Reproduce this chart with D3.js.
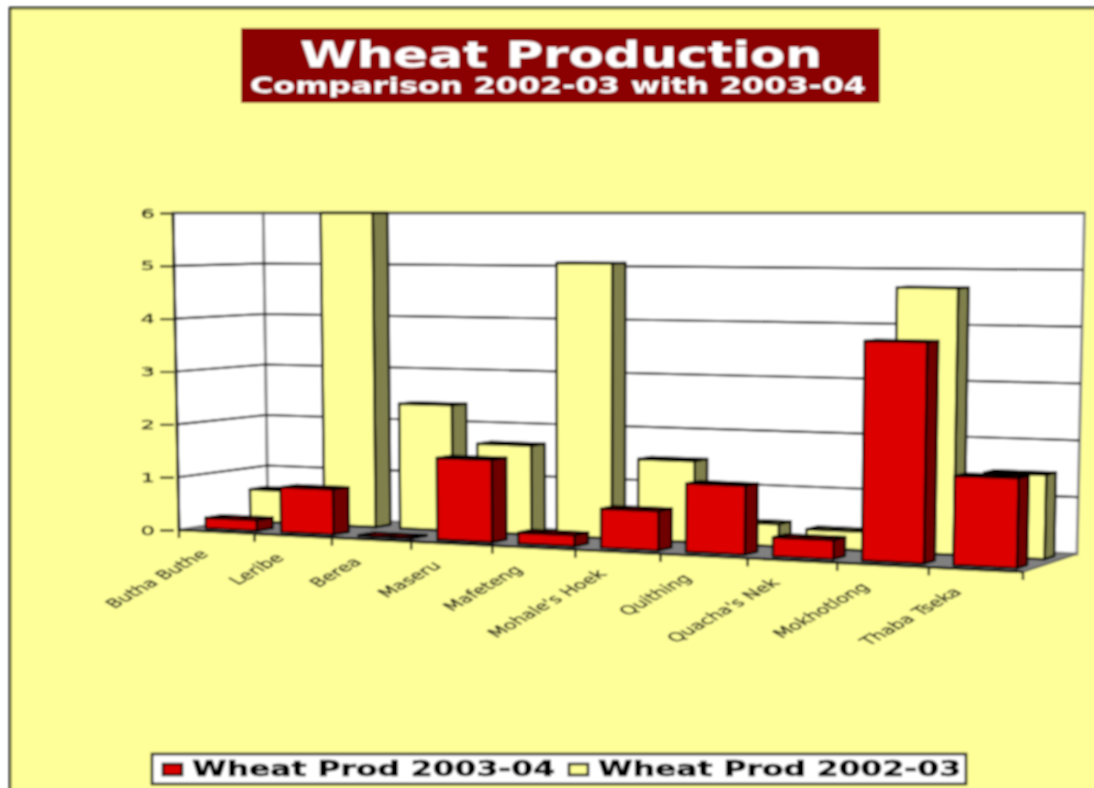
<!DOCTYPE html>
<html>
<head>
<meta charset="utf-8">
<style>
  html, body { margin: 0; padding: 0; background: #fff; }
  svg { display: block; }
  text { font-family: "DejaVu Sans", sans-serif; }
</style>
<script src="https://cdn.jsdelivr.net/npm/d3@7"></script>
</head>
<body>
<svg id="chart" width="1094" height="788"></svg>
<script>
const categories = ['Butha Buthe', 'Leribe', 'Berea', 'Maseru', 'Mafeteng', "Mohale's Hoek", 'Quithing', "Quacha's Nek", 'Mokhotlong', 'Thaba Tseka'];
const prod0304 = [0.2, 0.84, 0.01, 1.5, 0.2, 0.7, 1.21, 0.33, 3.79, 1.52];
const prod0203 = [0.62, 6, 2.37, 1.66, 5.07, 1.48, 0.4, 0.33, 4.68, 1.46];
const valueTicks = [0, 1, 2, 3, 4, 5, 6];
const seriesNames = ['Wheat Prod 2003-04', 'Wheat Prod 2002-03'];

const RED = { front: '#dd0000', top: '#8b0000', side: '#6f0000' };
const YEL = { front: '#ffff99', top: '#80804d', side: '#80804d' };
const BG = '#ffff99';
const XSTRETCH = 1.75;

const svg = d3.select('#chart');

// slight blur, the source picture is a scaled up bitmap
svg.append('defs').append('filter').attr('id', 'soft')
  .attr('filterUnits', 'userSpaceOnUse')
  .attr('x', 0).attr('y', 0).attr('width', 1094).attr('height', 788)
  .append('feGaussianBlur').attr('stdDeviation', 0.8);

const root = svg.append('g').attr('filter', 'url(#soft)');

root.append('rect').attr('x', 10).attr('y', 8).attr('width', 1100).attr('height', 800)
  .attr('fill', BG).attr('stroke', '#000').attr('stroke-width', 2.4);

// ---- floor homography (unit square -> floor quad) ----
const FL = [179, 530], FR = [1023, 572], BR = [1077, 554], BL = [268, 516];
const TOP_Y = 213;

function makeFloor(p0, p1, p2, p3) {
  const sx = p0[0] - p1[0] + p2[0] - p3[0], sy = p0[1] - p1[1] + p2[1] - p3[1];
  const dx1 = p1[0] - p2[0], dx2 = p3[0] - p2[0], dy1 = p1[1] - p2[1], dy2 = p3[1] - p2[1];
  const det = dx1 * dy2 - dx2 * dy1;
  const g = (sx * dy2 - dx2 * sy) / det, h = (dx1 * sy - sx * dy1) / det;
  const a = p1[0] - p0[0] + g * p1[0], b = p3[0] - p0[0] + h * p3[0];
  const d = p1[1] - p0[1] + g * p1[1], e = p3[1] - p0[1] + h * p3[1];
  return (u, w) => {
    const q = g * u + h * w + 1;
    return [(a * u + b * w + p0[0]) / q, (d * u + e * w + p0[1]) / q];
  };
}
const floor = makeFloor(FL, FR, BR, BL);

const yScale = d3.scaleLinear().domain([0, 6]).range([0, 1]);
const xBand = d3.scaleBand().domain(categories).range([0, 1]).paddingInner(0.32).paddingOuter(0.16);

// x along the categories, v value, z depth 0 front .. 1 back
function project(x, v, z) {
  const f = floor(x, z), t = yScale(v);
  return [f[0] + (f[0] - 580) * 0.015 * t, f[1] + (TOP_Y - f[1]) * t];
}

const polyPath = pts => d3.line()(pts) + 'Z';

// ---- walls ----
root.append('path').attr('fill', '#fff').attr('stroke', '#888').attr('stroke-width', 3)
  .attr('d', polyPath([project(0, 0, 0), project(0, 6, 0), project(0, 6, 1), project(0, 0, 1)]));
root.append('path').attr('fill', '#fff').attr('stroke', '#888').attr('stroke-width', 3)
  .attr('d', polyPath([project(0, 0, 1), project(0, 6, 1), project(1, 6, 1), project(1, 0, 1)]));
root.append('path').attr('fill', '#808080').attr('stroke', '#555').attr('stroke-width', 1)
  .attr('d', polyPath([project(0, 0, 0), project(0, 0, 1), project(1, 0, 1), project(1, 0, 0)]));

// grid lines
root.append('g').selectAll('path').data(valueTicks.filter(v => v > 0)).join('path')
  .attr('fill', 'none').attr('stroke', v => v === 6 ? '#333' : '#000').attr('stroke-width', 2.1)
  .attr('d', v => d3.line()([project(0, v, 0), project(0, v, 1), project(1, v, 1)]));

// left axis line
root.append('path').attr('stroke', '#000').attr('stroke-width', 2.8)
  .attr('d', d3.line()([project(0, 0, 0), project(0, 6, 0)]));

// value axis, ticks and labels
const yAxisScale = d3.scaleLinear().domain([0, 6]).range([530, 213]);
const yAxis = root.append('g').attr('transform', 'translate(174,0)')
  .call(d3.axisLeft(yAxisScale).tickValues(valueTicks).tickSize(14).tickPadding(5).tickFormat(d3.format('d')));
yAxis.select('.domain').remove();
yAxis.selectAll('line').attr('stroke', '#000').attr('stroke-width', 2.1);
yAxis.selectAll('text')
  .attr('font-size', 13).attr('fill', '#000').attr('stroke', '#000').attr('stroke-width', 0.3)
  .attr('font-family', '"DejaVu Sans", sans-serif')
  .attr('transform', `scale(${XSTRETCH},1)`)
  .attr('x', -19 / XSTRETCH);

// ---- bars ----
function drawBar(g, cat, val, z0, z1, col) {
  const x0 = xBand(cat), x1 = x0 + xBand.bandwidth();
  const faces = [
    { fill: col.top, pts: [project(x0, val, z0), project(x0, val, z1), project(x1, val, z1), project(x1, val, z0)] },
    { fill: col.side, pts: [project(x1, 0, z0), project(x1, val, z0), project(x1, val, z1), project(x1, 0, z1)] },
    { fill: col.front, pts: [project(x0, 0, z0), project(x0, val, z0), project(x1, val, z0), project(x1, 0, z0)] },
  ];
  g.selectAll(null).data(faces).join('path')
    .attr('fill', d => d.fill).attr('stroke', '#000').attr('stroke-width', 2.6)
    .attr('stroke-linejoin', 'round')
    .attr('d', d => polyPath(d.pts));
}
const backBars = root.append('g');
categories.forEach((c, i) => drawBar(backBars.append('g'), c, prod0203[i], 0.66, 0.84, YEL));
const frontBars = root.append('g');
categories.forEach((c, i) => drawBar(frontBars.append('g'), c, prod0304[i], 0.16, 0.34, RED));

// front floor edge + category ticks
root.append('path').attr('fill', 'none').attr('stroke', '#000').attr('stroke-width', 2.6)
  .attr('d', d3.line()([project(0, 0, 0), project(1, 0, 0)]));
root.append('path').attr('fill', 'none').attr('stroke', '#555').attr('stroke-width', 1.4)
  .attr('d', d3.line()([project(1, 0, 0), project(1, 0, 1)]));

const step = xBand.step();
const tickPos = d3.range(categories.length + 1).map(i => i * step);
root.append('g').selectAll('line').data(tickPos).join('line')
  .attr('x1', d => project(d, 0, 0)[0]).attr('x2', d => project(d, 0, 0)[0])
  .attr('y1', d => project(d, 0, 0)[1]).attr('y2', d => project(d, 0, 0)[1] + 8)
  .attr('stroke', '#000').attr('stroke-width', 2.4);

// category labels, source is 45 deg text stretched sideways with the bitmap
root.append('g').selectAll('text').data(categories).join('text')
  .attr('text-anchor', 'end').attr('font-size', 12.3).attr('fill', '#111')
  .attr('stroke', '#111').attr('stroke-width', 0.3)
  .attr('transform', d => {
    const u = xBand(d) + xBand.bandwidth() / 2;
    const p = project(u, 0, 0);
    return `translate(${p[0] - 7 - 6 * u},${p[1] + 23}) scale(${XSTRETCH},1) rotate(-45)`;
  })
  .text(d => d);

// ---- title ----
root.append('rect').attr('x', 241).attr('y', 28).attr('width', 639).attr('height', 75).attr('fill', '#8b0000');
root.append('text').attr('x', 300).attr('y', 67).attr('font-size', 35).attr('font-weight', 'bold').attr('fill', '#fff')
  .attr('textLength', 522).attr('lengthAdjust', 'spacingAndGlyphs').text('Wheat Production');
root.append('text').attr('x', 250).attr('y', 93).attr('font-size', 21).attr('font-weight', 'bold').attr('fill', '#fff')
  .attr('textLength', 616).attr('lengthAdjust', 'spacingAndGlyphs').text('Comparison 2002-03 with 2003-04');

// ---- legend ----
const legend = root.append('g');
legend.append('rect').attr('x', 152).attr('y', 754).attr('width', 814).attr('height', 30)
  .attr('fill', '#fff').attr('stroke', '#000').attr('stroke-width', 2.6);
const legendX = d3.scaleOrdinal().domain(seriesNames).range([163, 569]);
const legendFill = d3.scaleOrdinal().domain(seriesNames).range([RED.front, YEL.front]);
seriesNames.forEach(name => {
  legend.append('rect').attr('x', legendX(name)).attr('y', 764).attr('width', 19).attr('height', 11)
    .attr('fill', legendFill(name)).attr('stroke', '#000').attr('stroke-width', 2.6);
  legend.append('text').attr('x', legendX(name) + 29).attr('y', 776).attr('font-size', 21).attr('font-weight', 'bold')
    .attr('fill', '#000').attr('stroke', '#000').attr('stroke-width', 0.6)
    .attr('textLength', 363).attr('lengthAdjust', 'spacingAndGlyphs').text(name);
});
</script>
</body>
</html>
